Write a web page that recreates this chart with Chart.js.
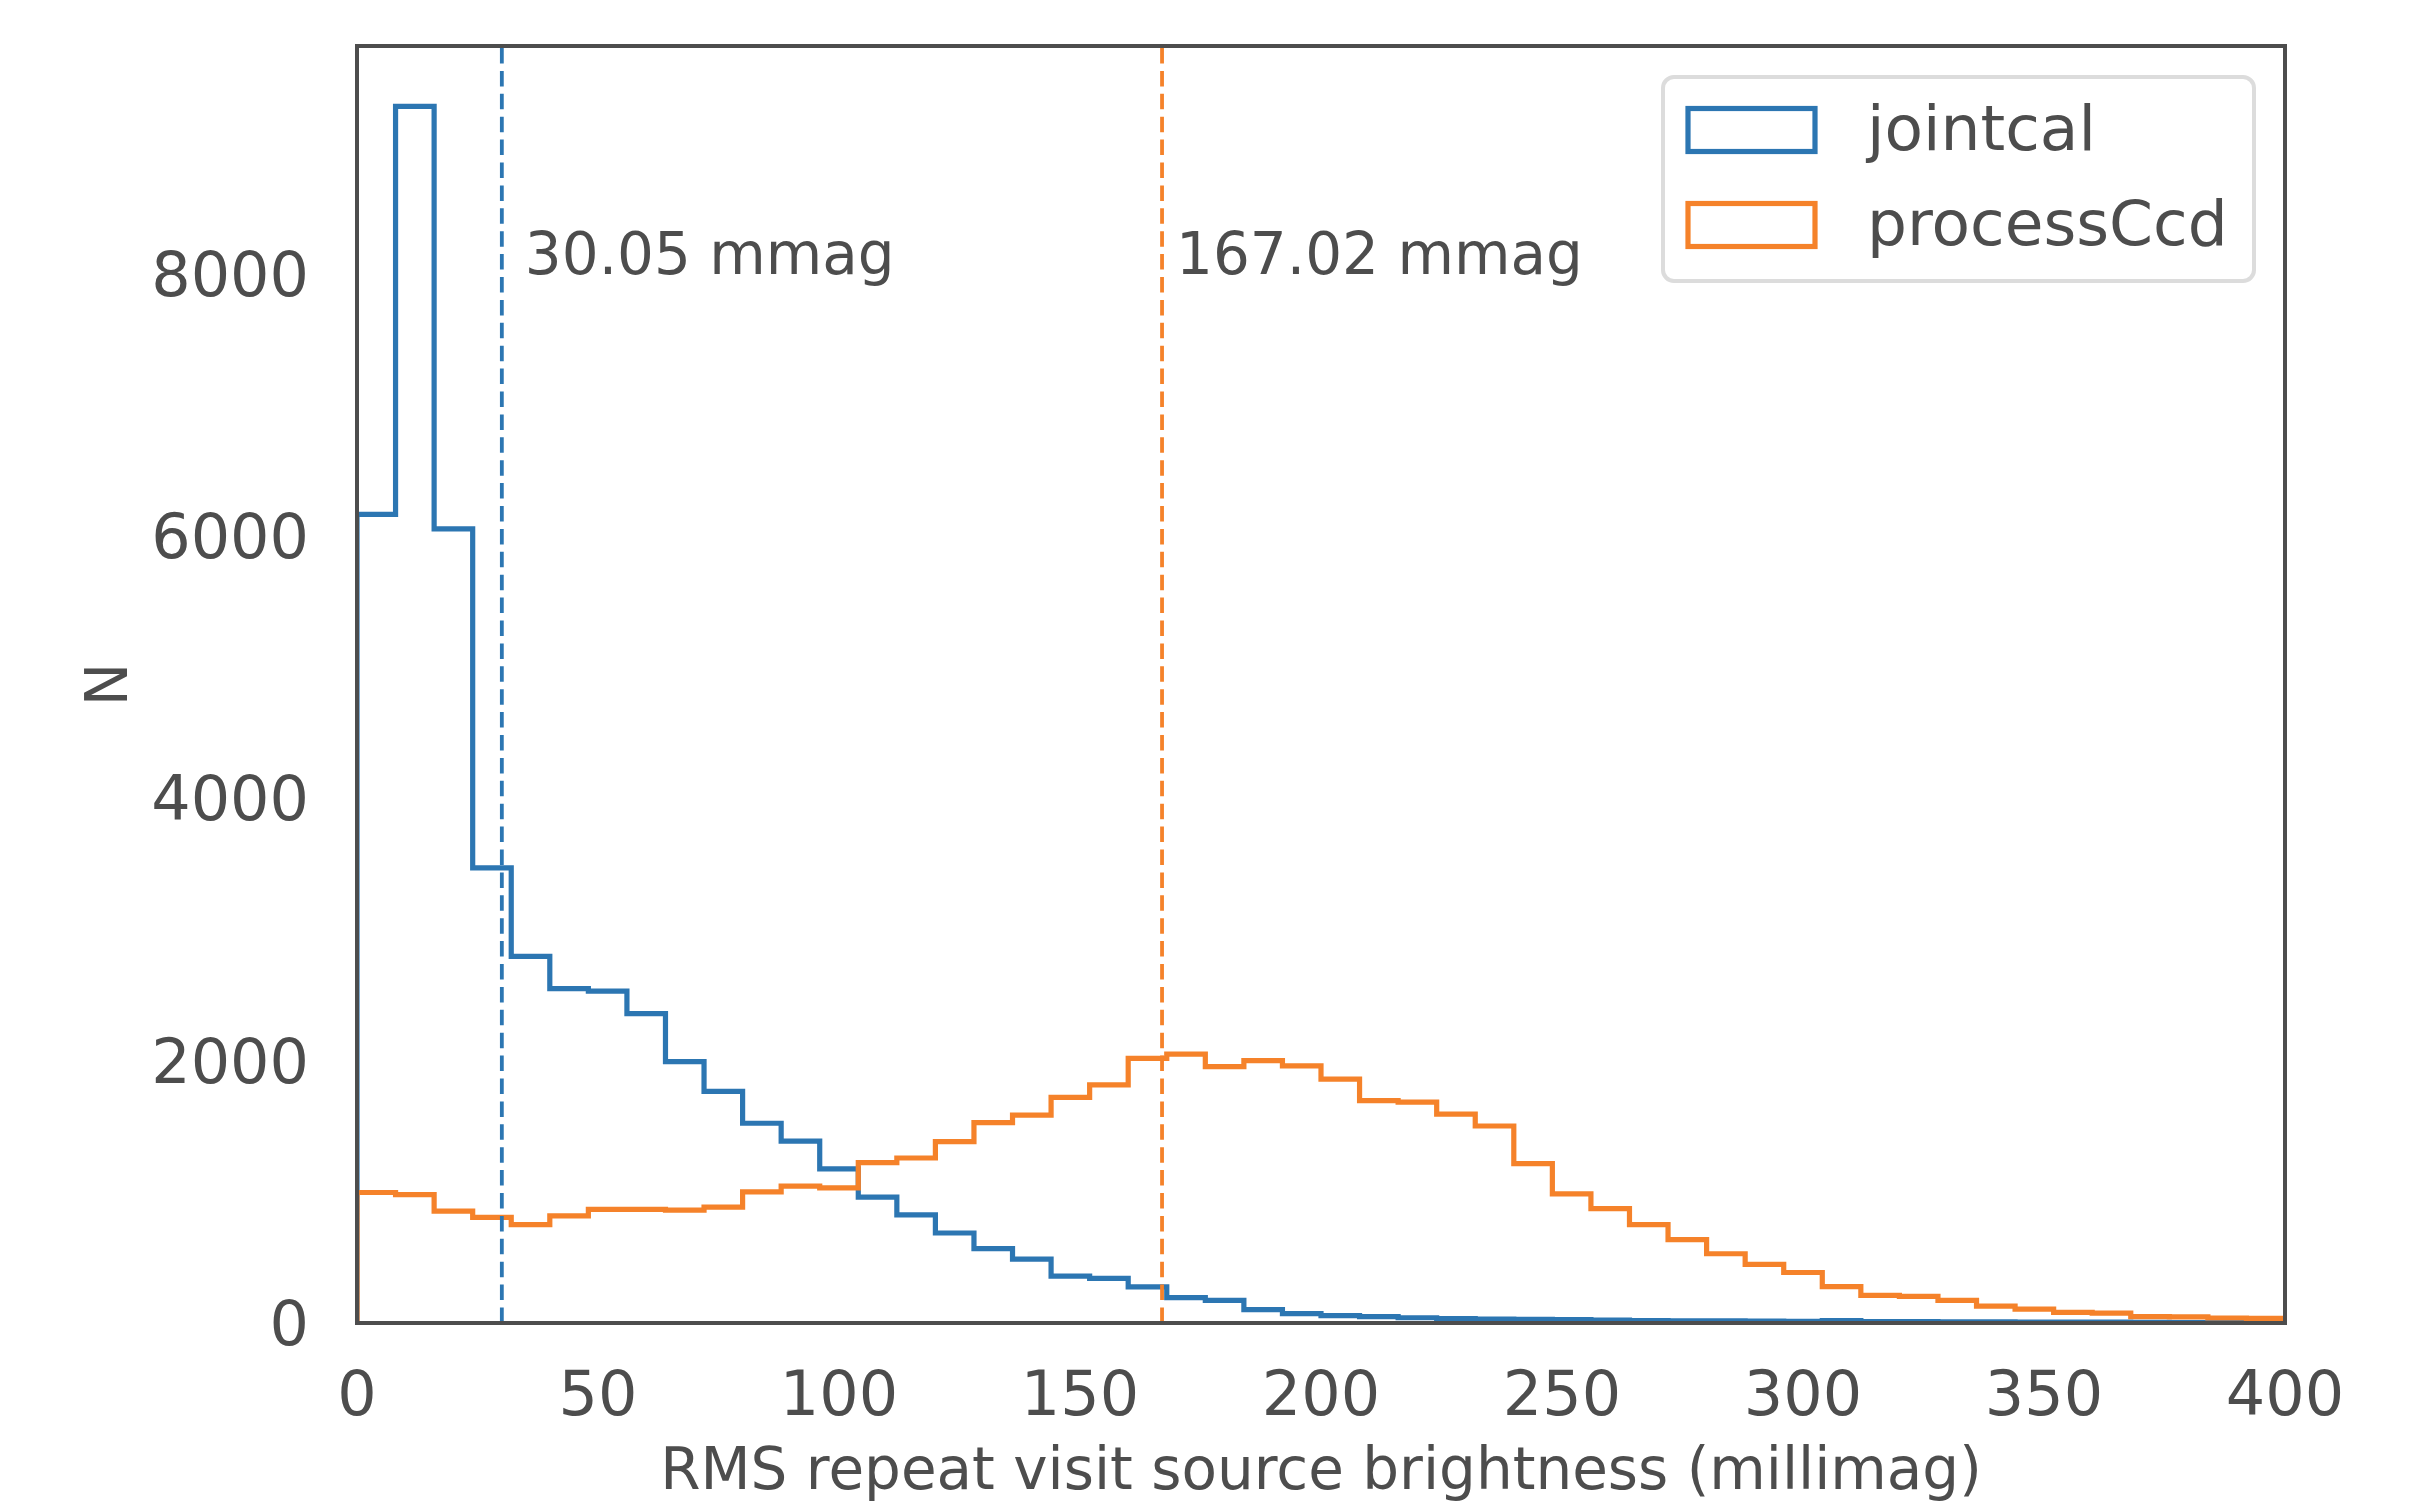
<!DOCTYPE html>
<html><head><meta charset="utf-8">
<script src="https://cdn.jsdelivr.net/npm/chart.js@4.4.1/dist/chart.umd.min.js"></script>
<style>html,body{margin:0;padding:0;background:#fff}#wrap{width:2424px;height:1505px}</style>
</head><body><div id="wrap"><canvas id="c" width="2424" height="1505"></canvas></div>
<script>
// ---- data ----
const binEdges = [0,8,16,24,32,40,48,56,64,72,80,88,96,104,112,120,128,136,144,152,160,168,176,184,192,200,
  208,216,224,232,240,248,256,264,272,280,288,296,304,312,320,328,336,344,352,360,368,376,384,392,400];
const jointcalCounts = [6165,9275,6055,3470,2795,2550,2530,2358,1992,1766,1523,1386,1175,960,824,686,567,487,358,340,
  275,194,172,102,71,56,48,40,34,29,27,26,22,19,16,17,14,13,18,11,10,9,8,7,6,6,5,4,4,3];
const processCcdCounts = [995,978,853,805,750,816,866,866,860,884,1000,1044,1030,1222,1258,1383,1527,1585,1720,1815,
  2018,2050,1955,2000,1960,1860,1695,1684,1592,1502,1215,985,872,750,636,528,447,385,278,210,203,172,129,106,81,75,48,47,38,36];
const seriesNames = ['jointcal', 'processCcd'];
const meanValues = [30.05, 167.02];
const meanLabels = ['30.05 mmag', '167.02 mmag'];
const xTicks = [0,50,100,150,200,250,300,350,400];
const yTicks = [0,2000,4000,6000,8000];
const xRange = [0, 400];
const yRange = [0, 9736];
const annotationY = 8000;

// ---- styles ----
const COLORS = ['#2c76b2', '#f5822a'];
const TEXT = '#4d4d4d';
const FONT = 'DejaVu Sans';

function stepPoints(counts) {
  const last = binEdges.length - 1;
  const pts = [{x: binEdges[0], y: 0}];
  counts.forEach((c, i) => pts.push({x: binEdges[i], y: c}));
  pts.push({x: binEdges[last], y: counts[counts.length - 1]});
  pts.push({x: binEdges[last], y: 0});
  return pts;
}

const allCounts = [jointcalCounts, processCcdCounts];
const datasets = [];
allCounts.forEach((counts, i) => {
  datasets.push({
    label: seriesNames[i], data: stepPoints(counts), stepped: 'before',
    borderColor: COLORS[i], borderWidth: 5.2, pointRadius: 0, fill: false,
    borderJoinStyle: 'miter', order: 10 - i, isHist: true
  });
});
meanValues.forEach((m, i) => {
  datasets.push({
    label: meanLabels[i], data: [{x: m, y: yRange[0]}, {x: m, y: yRange[1]}],
    borderColor: COLORS[i], borderWidth: 3.8, borderDash: [15.5, 7.4], pointRadius: 0, fill: false,
    order: 5 - i, isHist: false
  });
});

const overlay = {
  id: 'overlay',
  afterDatasetsDraw(chart) {
    const {ctx, chartArea: a, scales: {x, y}} = chart;
    ctx.save();
    // annotations
    ctx.font = `58px "${FONT}"`;
    ctx.fillStyle = TEXT;
    ctx.textBaseline = 'alphabetic';
    ctx.textAlign = 'left';
    const offs = [23, 14];
    meanValues.forEach((m, i) => {
      ctx.fillText(meanLabels[i], x.getPixelForValue(m) + offs[i], y.getPixelForValue(annotationY));
    });
    // frame
    ctx.strokeStyle = '#4d4d4d';
    ctx.lineWidth = 4;
    ctx.strokeRect(a.left, a.top, a.right - a.left, a.bottom - a.top);
    // legend
    const F = 63;
    const boxW = 591, boxH = 204;
    const bx = a.right - 31 - boxW, by = a.top + 31;
    const r = 11;
    ctx.beginPath();
    ctx.moveTo(bx + r, by);
    ctx.arcTo(bx + boxW, by, bx + boxW, by + boxH, r);
    ctx.arcTo(bx + boxW, by + boxH, bx, by + boxH, r);
    ctx.arcTo(bx, by + boxH, bx, by, r);
    ctx.arcTo(bx, by, bx + boxW, by, r);
    ctx.closePath();
    ctx.fillStyle = 'rgba(255,255,255,0.85)';
    ctx.fill();
    ctx.strokeStyle = '#dcdcdc';
    ctx.lineWidth = 4;
    ctx.stroke();
    const hist = chart.data.datasets.filter(d => d.isHist);
    hist.forEach((d, i) => {
      const cy = by + 53 + i * 95;
      ctx.strokeStyle = d.borderColor;
      ctx.lineWidth = 5.2;
      ctx.strokeRect(bx + 25, cy - 21.5, 127, 43);
      ctx.fillStyle = TEXT;
      ctx.font = `${F}px "${FONT}"`;
      ctx.textBaseline = 'middle';
      ctx.fillText(d.label, bx + 204, cy + 4);
    });
    ctx.restore();
  }
};

new Chart(document.getElementById('c'), {
  type: 'line',
  data: {datasets},
  options: {
    responsive: false, animation: false, devicePixelRatio: 1,
    layout: {padding: {left: 0, top: 46, right: 139, bottom: 0}},
    plugins: {legend: {display: false}, tooltip: {enabled: false}},
    scales: {
      x: {
        type: 'linear', min: xRange[0], max: xRange[1],
        afterFit(s) { s.height = 182; s.paddingLeft = 0; s.paddingRight = 0; },
        afterBuildTicks(s) { s.ticks = xTicks.map(v => ({value: v})); },
        grid: {display: false, drawTicks: false}, border: {display: false},
        ticks: {padding: 39, autoSkip: false, maxRotation: 0, color: TEXT,
          font: {family: FONT, size: 62}, callback: v => String(v)},
        title: {display: true, text: 'RMS repeat visit source brightness (millimag)', color: TEXT,
          font: {family: FONT, size: 58}, padding: {top: 0, bottom: -4}}
      },
      y: {
        type: 'linear', min: yRange[0], max: yRange[1],
        afterFit(s) { s.width = 357; s.paddingTop = 0; s.paddingBottom = 0; },
        afterBuildTicks(s) { s.ticks = yTicks.map(v => ({value: v})); },
        grid: {display: false, drawTicks: false}, border: {display: false},
        ticks: {padding: 48, labelOffset: 6, color: TEXT, font: {family: FONT, size: 62}, callback: v => String(v)},
        title: {display: true, text: 'N', color: TEXT, font: {family: FONT, size: 58}, padding: {top: 77, bottom: 0}}
      }
    }
  },
  plugins: [overlay]
});
</script></body></html>
